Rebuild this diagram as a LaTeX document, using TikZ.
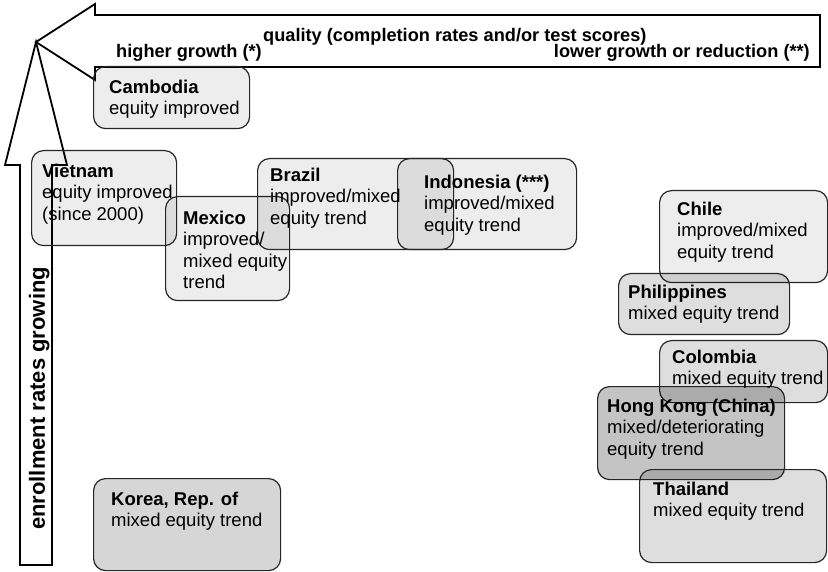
\documentclass[tikz,border=0pt]{standalone}
\usepackage{fontspec}
\setmainfont{Liberation Sans}

\begin{document}
\begin{tikzpicture}[x=1pt, y=-1pt,
        % styles
        country/.style = {
                rectangle, rounded corners=12pt, anchor=north west,
                inner sep=0pt, draw=black!85, line width=1.2pt,
                fill=black, fill opacity=0.07
            },
        midshade/.style = {fill opacity=0.13},
        darkshade/.style = {fill opacity=0.16},
        darkershade/.style = {fill opacity=0.23},
        countrytext/.style = {
                anchor=north west, align=left, inner sep=0pt,
                font=\fontsize{18.5}{21.5}\selectfont
            },
        axistext/.style = {
                inner sep=0pt, font=\fontsize{18.2}{22}\selectfont\bfseries
            },
        bigarrow/.style = {
                draw=black, line width=1.8pt, line join=miter
            }]

    \useasboundingbox (0,0) rectangle (828,572);

    % block arrows
    \coordinate (tip) at (36,42);
    \draw [bigarrow] (820,15) -- (95,15) -- (95,4) -- (tip) -- (95,80) -- (95,67) -- (820,67) -- cycle;
    \draw [bigarrow] (20,565) -- (20,165) -- (5,165) -- (tip) -- (67,165) -- (52,165) -- (52,565) -- cycle;

    \node (quality) [axistext, anchor=base west] at (263,42) {quality (completion rates and/or test scores)};
    \node (higher) [axistext, anchor=base west] at (116,58) {higher growth (*)};
    \node (lower) [axistext, anchor=base east] at (810,58) {lower growth or reduction (**)};
    \node (enrollment) [axistext, font=\fontsize{22}{26}\selectfont\bfseries, anchor=base west, rotate=90] at (45,530) {enrollment rates growing};

    % boxes
    \node (cambodia) [country, minimum width=156, minimum height=62] at (93,66) {};
    \node (vietnam) [country, minimum width=145, minimum height=95] at (31,150) {};
    \node (mexico) [country, minimum width=124, minimum height=104] at (165,196) {};
    \node (brazil) [country, minimum width=196, minimum height=91] at (257,158) {};
    \node (indonesia) [country, minimum width=179, minimum height=91] at (397,158) {};
    \node (chile) [country, minimum width=168, minimum height=92] at (659,190) {};
    \node (philippines) [country, midshade, minimum width=171, minimum height=61] at (618,273) {};
    \node (colombia) [country, midshade, minimum width=168, minimum height=62] at (659,340) {};
    \node (hongkong) [country, darkershade, minimum width=187, minimum height=93] at (597,386) {};
    \node (thailand) [country, midshade, minimum width=187, minimum height=93] at (639,469) {};
    \node (korea) [country, darkshade, minimum width=187, minimum height=92] at (93,478) {};

    % texts
    \node (cambodia text) [countrytext] at (109,79.6) {\textbf{Cambodia}\\equity improved};
    \node (vietnam text) [countrytext] at (42,163.6) {\textbf{Vietnam}\\equity improved\\(since 2000)};
    \node (mexico text) [countrytext] at (183,210.6) {\textbf{Mexico}\\improved/\\mixed equity\\trend};
    \node (brazil text) [countrytext] at (270,167.6) {\textbf{Brazil}\\improved/mixed\\equity trend};
    \node (indonesia text) [countrytext] at (424,174.6) {\textbf{Indonesia (***)}\\improved/mixed\\equity trend};
    \node (chile text) [countrytext] at (677,201.6) {\textbf{Chile}\\improved/mixed\\equity trend};
    \node (philippines text) [countrytext] at (628,284.6) {\textbf{Philippines}\\mixed equity trend};
    \node (colombia text) [countrytext] at (672,349.6) {\textbf{Colombia}\\mixed equity trend};
    \node (hongkong text) [countrytext] at (607,398.6) {\textbf{Hong Kong (China)}\\mixed/deteriorating\\equity trend};
    \node (thailand text) [countrytext] at (653,481.6) {\textbf{Thailand}\\mixed equity trend};
    \node (korea text) [countrytext] at (111,491.6) {\textbf{Korea, Rep. of}\\mixed equity trend};

\end{tikzpicture}
\end{document}
